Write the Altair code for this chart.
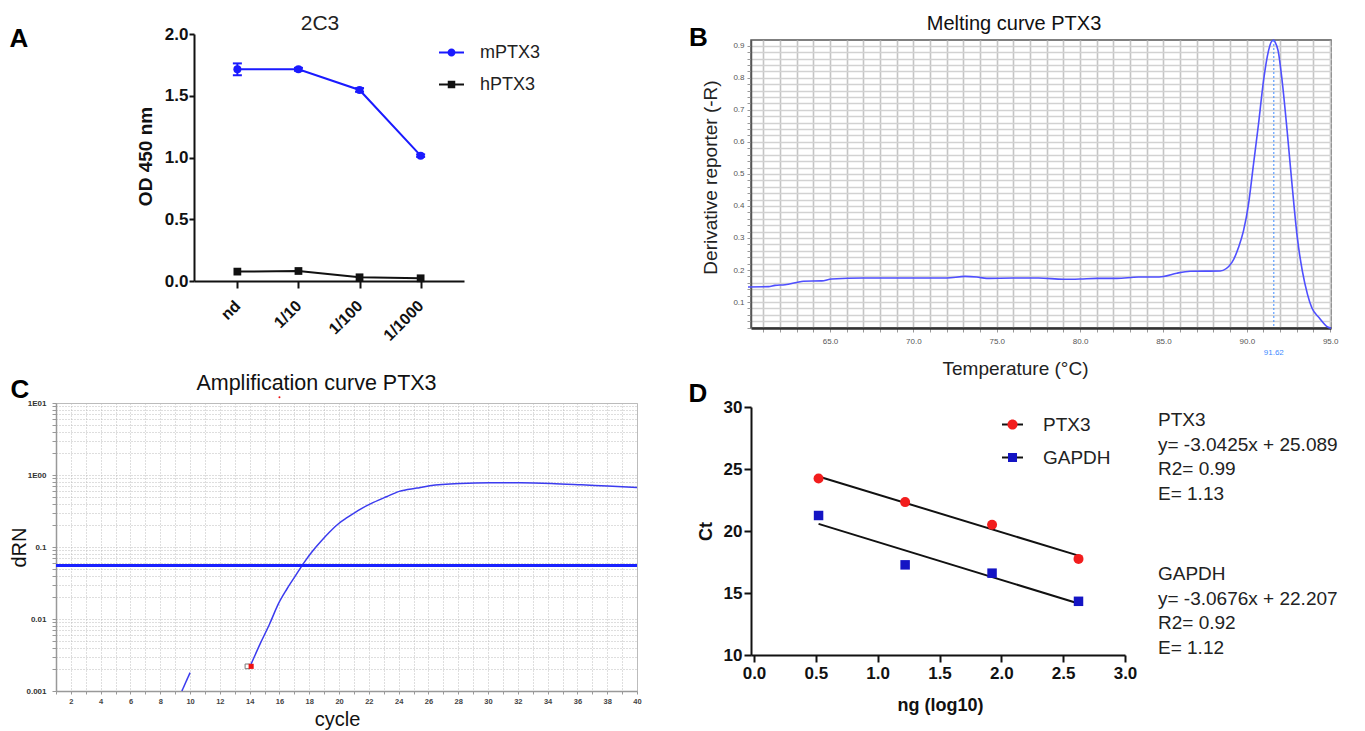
import altair as alt
import pandas as pd

FONT = "Liberation Sans"

# ---------------- Panel A : ELISA 2C3 ----------------
dilutions = ["nd", "1/10", "1/100", "1/1000"]
mptx3 = [1.714, 1.714, 1.547, 1.015]
mptx3_err = [0.048, 0.012, 0.015, 0.010]
hptx3 = [0.076, 0.081, 0.030, 0.022]
hptx3_err = [0.0, 0.0, 0.0, 0.0]
series_A = ["mPTX3", "hPTX3"]
colors_A = ["#1a1aff", "#111111"]
title_A = "2C3"

# ---------------- Panel B : melting curve ----------------
melt_temp = [60.08, 61.3, 61.7, 62.3, 63.0, 63.4, 64.5, 65.1, 67.0, 69.2, 71.0, 72.0,
             73.1, 73.8, 74.4, 76.0, 77.5, 79.0, 80.0, 81.0, 82.2, 83.5, 84.5, 85.0,
             85.8, 86.6, 88.4, 89.1, 89.5, 89.8, 90.1, 90.4, 90.7, 91.0, 91.3, 91.48,
             91.62, 91.68, 91.88, 92.12, 92.42, 92.73, 93.03, 93.33, 93.64, 93.9,
             94.34, 94.85, 95.05]
melt_deriv = [0.147, 0.148, 0.152, 0.154, 0.161, 0.165, 0.166, 0.172, 0.175, 0.175,
              0.175, 0.175, 0.180, 0.178, 0.174, 0.175, 0.175, 0.171, 0.172, 0.174,
              0.174, 0.178, 0.178, 0.180, 0.190, 0.196, 0.197, 0.223, 0.270, 0.322,
              0.405, 0.530, 0.655, 0.790, 0.884, 0.913, 0.918, 0.913, 0.884, 0.790,
              0.634, 0.457, 0.301, 0.197, 0.124, 0.082, 0.051, 0.022, 0.018]
peak_temp = 91.62
title_B = "Melting curve PTX3"

# ---------------- Panel C : amplification curve ----------------
amp_cycle = [14.02, 14.74, 15.33, 15.91, 16.49, 17.07, 17.65, 18.24, 18.82, 19.40,
             19.98, 20.56, 21.44, 22.31, 23.18, 24.05, 25.22, 26.09, 28.13, 30.16,
             32.20, 34.24, 36.27, 38.02, 40.0]
amp_drn = [0.00218, 0.0047, 0.00845, 0.016, 0.0259, 0.0397, 0.0608, 0.0885, 0.122,
           0.164, 0.212, 0.257, 0.336, 0.416, 0.499, 0.592, 0.658, 0.709, 0.764,
           0.78, 0.78, 0.764, 0.731, 0.701, 0.671]
early_cycle = [9.45, 10.0]
early_drn = [0.001, 0.0018]
threshold = 0.0553
start_cycles = [13.85, 14.1]
start_drn = [0.0022, 0.0022]
start_kind = ["open", "red"]
stray_cycle = [16.0]
stray_drn = [12.0]
title_C = "Amplification curve PTX3"

# ---------------- Panel D : standard curves ----------------
ng_log = [0.522, 1.222, 1.925, 2.624]
ct_ptx3 = [24.24, 22.33, 20.50, 17.75]
ct_gapdh = [21.25, 17.27, 16.60, 14.33]
series_D = ["PTX3", "GAPDH"]
colors_D = ["#f21d1d", "#1414c4"]
eq_ptx3 = ["PTX3", "y= -3.0425x + 25.089", "R2= 0.99", "E= 1.13"]
eq_gapdh = ["GAPDH", "y= -3.0676x + 22.207", "R2= 0.92", "E= 1.12"]

panel_letters = ["A", "B", "C", "D"]

# legend glyphs (line + marker) as custom symbol paths
PATH_LINE_CIRCLE = "M-1,-0.08H1V0.08H-1Z M0.32,0A0.32,0.32,0,1,1,-0.32,0A0.32,0.32,0,1,1,0.32,0Z"
PATH_LINE_SQUARE = "M-1,-0.08H1V0.08H-1Z M-0.3,-0.3H0.3V0.3H-0.3Z"
PATH_LINE = "M-1,-0.095H1V0.095H-1Z"
PATH_CIRCLE = "M0.48,0A0.48,0.48,0,1,1,-0.48,0A0.48,0.48,0,1,1,0.48,0Z"
PATH_SQUARE = "M-0.43,-0.43H0.43V0.43H-0.43Z"

ONE = pd.DataFrame({"v": [0]})


def pin(x1, y1):
    """invisible 1px rectangle that fixes the layout bounds of a panel"""
    return alt.Chart(ONE).mark_rect(opacity=0).encode(
        x=alt.value(x1), x2=alt.value(x1 + 1), y=alt.value(y1), y2=alt.value(y1 + 1))


def label(txt, px, py, size, weight="normal", color="#000"):
    return alt.Chart(ONE).mark_text(
        fontSize=size, fontWeight=weight, align="center", baseline="alphabetic", color=color
    ).encode(x=alt.value(px), y=alt.value(py), text=alt.value(txt))


def spacer(w, h):
    return pin(0, 0).properties(width=w, height=h)


# ======================= Panel A =======================
dfA = pd.DataFrame({
    "dil": dilutions * 2,
    "od": mptx3 + hptx3,
    "err": mptx3_err + hptx3_err,
    "series": [series_A[0]] * 4 + [series_A[1]] * 4,
})
dfA["lo"] = dfA["od"] - dfA["err"]
dfA["hi"] = dfA["od"] + dfA["err"]

xA = alt.X("dil:N", sort=dilutions,
           scale=alt.Scale(type="point", domain=dilutions, padding=0.71),
           axis=alt.Axis(title=None, labelAngle=-45, labelAlign="right", labelBaseline="middle",
                         labelFontSize=16, labelFontWeight="bold", labelColor="#111",
                         labelPadding=15, domainColor="#111", domainWidth=2,
                         tickColor="#111", tickWidth=2, tickSize=7, grid=False))
yA = alt.Y("od:Q", scale=alt.Scale(domain=[0, 2], nice=False),
           axis=alt.Axis(values=[0, 0.5, 1, 1.5, 2], tickCount=20, format=".1f", labelFontSize=17,
                         labelFontWeight="bold", labelColor="#111", labelPadding=1,
                         tickSize=5, tickWidth=2, tickColor="#111", domainColor="#111",
                         domainWidth=2, grid=False, title="OD 450 nm", titleFontSize=19,
                         titleFontWeight="bold", titleColor="#111", titleX=-49, titleY=122,
                         titleAngle=270, titleAlign="center", titleBaseline="middle"))

baseA = alt.Chart(dfA)
mA = baseA.transform_filter(alt.datum.series == series_A[0])
hA = baseA.transform_filter(alt.datum.series == series_A[1])
lineMA = mA.mark_line(strokeWidth=2, color=colors_A[0]).encode(x=xA, y=yA)
lineHA = hA.mark_line(strokeWidth=2, color=colors_A[1]).encode(x=xA, y=yA)
errA = mA.transform_filter("datum.err > 0").mark_rule(strokeWidth=2, color=colors_A[0]).encode(
    x=xA, y="lo:Q", y2="hi:Q")
capLoA = mA.transform_filter("datum.err > 0").mark_tick(
    size=9, thickness=2, opacity=1, color=colors_A[0]).encode(x=xA, y="lo:Q")
capHiA = mA.transform_filter("datum.err > 0").mark_tick(
    size=9, thickness=2, opacity=1, color=colors_A[0]).encode(x=xA, y="hi:Q")
circA = mA.mark_point(shape="circle", filled=True, size=64, opacity=1,
                      color=colors_A[0]).encode(x=xA, y=yA)
sqA = hA.mark_point(shape="square", filled=True, size=60, opacity=1,
                    color=colors_A[1]).encode(x=xA, y=yA)
legA_props = dict(title=None, orient="none", legendX=245, legendY=6, symbolSize=625,
                  symbolStrokeWidth=0, symbolOpacity=1, labelFontSize=18, labelColor="#222",
                  labelOffset=16, rowPadding=10, padding=0)
legendA = baseA.transform_filter("false").mark_point(filled=True, opacity=1).encode(
    fill=alt.Fill("series:N", scale=alt.Scale(domain=series_A, range=colors_A),
                  legend=alt.Legend(**legA_props)),
    shape=alt.Shape("series:N", scale=alt.Scale(domain=series_A,
                                                range=[PATH_LINE_CIRCLE, PATH_LINE_SQUARE]),
                    legend=alt.Legend(**legA_props)),
)
panelA = alt.layer(lineMA, lineHA, errA, capLoA, capHiA, circA, sqA, legendA,
                   label(title_A, 126, -4, 21, color="#222"),
                   pin(-62, -25), pin(0, 329)).properties(width=270, height=247)

# ======================= Panel B =======================
dfB = pd.DataFrame({"t": melt_temp, "d": melt_deriv})
xB = alt.X("t:Q", scale=alt.Scale(domain=[60.26, 95.05], nice=False, zero=False),
           axis=alt.Axis(values=list(range(61, 96)), tickCount=200,
                         labelExpr="datum.value % 5 == 0 ? format(datum.value, '.1f') : ''",
                         labelOverlap=False, labelFlush=False, grid=True, gridColor="#c4c4c4",
                         gridWidth=1.6, domainColor="#333", domainWidth=2.5, tickColor="#999",
                         tickSize=4, labelFontSize=8, labelColor="#555", labelPadding=5,
                         title="Temperature (°C)", titleFontSize=19, titleFontWeight="normal",
                         titleColor="#222", titleX=264, titleY=40, titleAlign="center",
                         titleBaseline="middle"))
yB = alt.Y("d:Q", scale=alt.Scale(domain=[0.019, 0.918], nice=False, zero=False),
           axis=alt.Axis(values=[round(0.02 * k, 2) for k in range(1, 46)], tickCount=200,
                         labelExpr="abs(datum.value*10 - round(datum.value*10)) < 0.001 ? format(datum.value, '.1f') : ''",
                         labelOverlap=False, labelFlush=False, grid=True, gridColor="#d2d2d2",
                         gridWidth=1.3, domainColor="#555", domainWidth=1.5, tickColor="#999",
                         tickSize=4, labelFontSize=8, labelColor="#555", labelPadding=3,
                         title="Derivative reporter (-R)", titleFontSize=19,
                         titleFontWeight="normal", titleColor="#222", titleX=-41, titleY=137,
                         titleAngle=270, titleAlign="center", titleBaseline="middle"))
baseB = alt.Chart(dfB)
curveB = baseB.mark_line(color="#4f4fff", strokeWidth=1.6, interpolate="monotone").encode(x=xB, y=yB)
peakRule = alt.Chart(pd.DataFrame({"p": [peak_temp]})).mark_rule(
    color="#3d8bff", strokeWidth=1, strokeDash=[2, 2]).encode(x=alt.X("p:Q"))
peakText = alt.Chart(pd.DataFrame({"p": [peak_temp]})).mark_text(
    color="#3d8bff", fontSize=8, baseline="middle").encode(
    x=alt.X("p:Q"), y=alt.value(313), text=alt.Text("p:Q", format=".2f"))
panelB = alt.layer(curveB, peakRule, peakText,
                   label(title_B, 263, -10, 20, color="#111"),
                   label("B", -52.5, 6, 26, "bold"),
                   pin(-64, -30), pin(0, 338)).properties(
    width=580, height=288,
    view=alt.ViewBackground(stroke="#555", strokeWidth=1.5))

# ======================= Panel C =======================
dfC = pd.DataFrame({"c": amp_cycle, "r": amp_drn})
dfC0 = pd.DataFrame({"c": early_cycle, "r": early_drn})
dfCs = pd.DataFrame({"c": start_cycles, "r": start_drn, "k": start_kind})
dfCx = pd.DataFrame({"c": stray_cycle, "r": stray_drn})
log_vals = [round(k * 10 ** e, 6) for e in range(-3, 1) for k in range(1, 10)] + [10.0]
scaleCy = alt.Scale(type="log", domain=[0.001, 10], nice=False)
xC = alt.X("c:Q", scale=alt.Scale(domain=[1, 40], nice=False, zero=False),
           axis=alt.Axis(values=list(range(1, 41)), tickCount=200,
                         labelExpr="datum.value % 2 == 0 ? format(datum.value, 'd') : ''",
                         labelOverlap=False, labelFlush=False, grid=True, gridColor="#bdbdbd",
                         gridDash=[1, 2], gridWidth=1, domainColor="#999", domainWidth=1.5,
                         tickColor="#999", tickSize=3, labelFontSize=7.5, labelFontWeight="bold",
                         labelColor="#444", labelPadding=3, title="cycle", titleFontSize=20,
                         titleFontWeight="normal", titleColor="#111", titleX=281, titleY=28,
                         titleAlign="center", titleBaseline="middle"))
yC = alt.Y("r:Q", scale=scaleCy,
           axis=alt.Axis(values=log_vals, tickCount=200,
                         labelExpr="abs(log(datum.value)/LN10 - round(log(datum.value)/LN10)) < 0.01 ? (datum.value > 5 ? '1E01' : (datum.value > 0.5 ? '1E00' : format(datum.value, '~g'))) : ''",
                         labelOverlap=False, labelFlush=False, grid=True, gridColor="#bdbdbd",
                         gridDash=[1, 2], gridWidth=1, domainColor="#999", domainWidth=1.5,
                         tickColor="#999", tickSize=4, labelFontSize=8, labelFontWeight="bold",
                         labelColor="#333", labelPadding=6, title="dRN", titleFontSize=20,
                         titleFontWeight="normal", titleColor="#111", titleX=-37, titleY=144,
                         titleAngle=270, titleAlign="center", titleBaseline="middle"))
threshC = alt.Chart(pd.DataFrame({"th": [threshold]})).mark_rule(
    color="#1a22ff", strokeWidth=3).encode(y=alt.Y("th:Q", scale=scaleCy))
curveC = alt.Chart(dfC).mark_line(color="#3b3bef", strokeWidth=1.5, interpolate="monotone").encode(x=xC, y=yC)
earlyC = alt.Chart(dfC0).mark_line(color="#3b3bef", strokeWidth=1.5).encode(x=xC, y=yC)
openC = alt.Chart(dfCs).transform_filter("datum.k == 'open'").mark_point(
    shape="square", filled=True, fill="white", stroke="#777", strokeWidth=1, size=22,
    opacity=1).encode(x=xC, y=yC)
redC = alt.Chart(dfCs).transform_filter("datum.k == 'red'").mark_point(
    shape="square", filled=True, color="#ee1111", size=26, opacity=1).encode(x=xC, y=yC)
strayC = alt.Chart(dfCx).mark_point(filled=True, color="#ee1111", size=4, opacity=1).encode(x=xC, y=yC)
panelC = alt.layer(curveC, earlyC, threshC, openC, redC, strayC,
                   label(title_C, 260.5, -13, 21.5, color="#111"),
                   label("C", -36, -5, 26, "bold"),
                   pin(0, -38), pin(628, 0)).properties(
    width=581, height=288,
    view=alt.ViewBackground(stroke="#bbb", strokeWidth=1))

# ======================= Panel D =======================
dfD = pd.DataFrame({
    "ng": ng_log * 2,
    "ct": ct_ptx3 + ct_gapdh,
    "series": [series_D[0]] * 4 + [series_D[1]] * 4,
})
dfD["series_line"] = dfD["series"] + " line"
xD = alt.X("ng:Q", scale=alt.Scale(domain=[-0.0243, 3], nice=False, zero=False),
           axis=alt.Axis(values=[0, 0.5, 1, 1.5, 2, 2.5, 3], tickCount=20, format=".1f",
                         labelFlush=False, labelFontSize=17, labelFontWeight="bold",
                         labelColor="#111", labelPadding=3, tickSize=7, tickWidth=2,
                         tickColor="#111", domainColor="#111", domainWidth=2, grid=False,
                         title="ng (log10)", titleFontSize=18, titleFontWeight="bold",
                         titleColor="#111", titleX=189, titleY=50, titleAlign="center",
                         titleBaseline="middle"))
yD = alt.Y("ct:Q", scale=alt.Scale(domain=[10, 30], nice=False, zero=False),
           axis=alt.Axis(values=[10, 15, 20, 25, 30], tickCount=20, labelFlush=False,
                         labelFontSize=17, labelFontWeight="bold", labelColor="#111",
                         labelPadding=2, tickSize=7, tickWidth=2, tickColor="#111",
                         domainColor="#111", domainWidth=2, grid=False, title="Ct",
                         titleFontSize=18, titleFontWeight="bold", titleColor="#111",
                         titleX=-45, titleY=124, titleAngle=270, titleAlign="center",
                         titleBaseline="middle"))
baseD = alt.Chart(dfD)
regD = baseD.transform_regression("ng", "ct", groupby=["series"]).mark_line(
    color="#111", strokeWidth=2).encode(x=xD, y=yD, detail="series:N")
circD = baseD.transform_filter(alt.datum.series == series_D[0]).mark_point(
    shape="circle", filled=True, size=100, opacity=1, color=colors_D[0]).encode(x=xD, y=yD)
sqD = baseD.transform_filter(alt.datum.series == series_D[1]).mark_point(
    shape="square", filled=True, size=90, opacity=1, color=colors_D[1]).encode(x=xD, y=yD)
legD_common = dict(title=None, orient="none", legendX=251, legendY=7, symbolSize=441,
                   labelFontSize=19, labelOffset=20, rowPadding=12, padding=0,
                   symbolOpacity=1, symbolStrokeWidth=0)
legD_line = baseD.transform_filter("false").mark_point(filled=True, opacity=1).encode(
    color=alt.Color("series_line:N",
                    scale=alt.Scale(domain=[s + " line" for s in series_D], range=["#111", "#111"]),
                    legend=alt.Legend(symbolType=PATH_LINE, labelExpr="''", zindex=0,
                                      **legD_common)))
legD_mark_props = dict(labelColor="#222", zindex=1, **legD_common)
legD_mark = baseD.transform_filter("false").mark_point(filled=True, opacity=1).encode(
    fill=alt.Fill("series:N", scale=alt.Scale(domain=series_D, range=colors_D),
                  legend=alt.Legend(**legD_mark_props)),
    shape=alt.Shape("series:N", scale=alt.Scale(domain=series_D, range=[PATH_CIRCLE, PATH_SQUARE]),
                    legend=alt.Legend(**legD_mark_props)))
eqD1 = alt.Chart(ONE).mark_text(
    align="left", baseline="middle", lineBreak="\n", lineHeight=24.5, fontSize=19,
    color="#222").encode(x=alt.value(407), y=alt.value(13), text=alt.value("\n".join(eq_ptx3)))
eqD2 = alt.Chart(ONE).mark_text(
    align="left", baseline="middle", lineBreak="\n", lineHeight=24.5, fontSize=19,
    color="#222").encode(x=alt.value(407), y=alt.value(167), text=alt.value("\n".join(eq_gapdh)))
panelD = alt.layer(regD, circD, sqD, legD_line, legD_mark, eqD1, eqD2,
                   label("D", -53, -5, 26, "bold"),
                   pin(-64, 0), pin(0, -27)).properties(width=374, height=248)

# ======================= layout =======================
top1 = alt.layer(pin(-48, 0), pin(0, 0)).properties(width=1, height=1)
spA = alt.layer(label("A", -37, 13, 26, "bold"), pin(0, 0)).properties(width=76, height=1)

indep = dict(color="independent", fill="independent", shape="independent", stroke="independent")
rowA = alt.hconcat(spA, panelA, spacing=0).resolve_scale(**indep)
col1 = alt.vconcat(top1, rowA, panelC, spacing=0).resolve_scale(**indep)
col2 = alt.vconcat(spacer(1, 1), panelB, panelD, spacing=0).resolve_scale(**indep)

chart = alt.hconcat(col1, col2, spacing=0).resolve_scale(**indep).properties(
    padding=0
).configure_view(strokeWidth=0).configure_axis(
    labelFont=FONT, titleFont=FONT
).configure_legend(labelFont=FONT).configure_title(font=FONT).configure_text(font=FONT)

chart.save("out.html", embed_options={"renderer": "svg", "actions": False})
